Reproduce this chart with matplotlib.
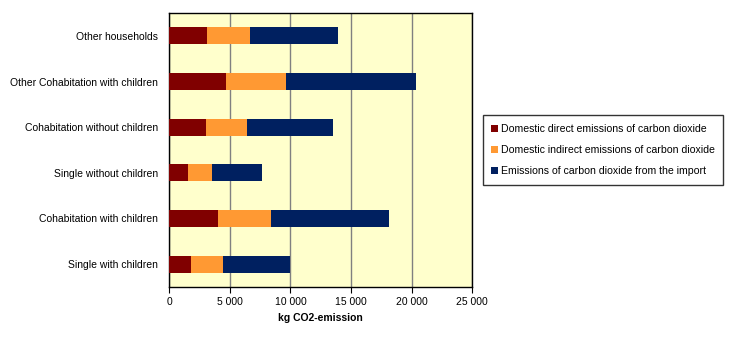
import numpy as np
import matplotlib
matplotlib.use('Agg')
import matplotlib.pyplot as plt
from matplotlib.ticker import FuncFormatter

plt.rcParams['font.family'] = ['Liberation Sans', 'DejaVu Sans']

categories = ['Single with children', 'Cohabitation with children',
              'Single without children', 'Cohabitation without children',
              'Other Cohabitation with children', 'Other households']
direct = [1800, 4000, 1550, 3000, 4700, 3100]
indirect = [2650, 4400, 2000, 3400, 4950, 3550]
imported = [5550, 9750, 4100, 7100, 10700, 7250]
series_names = ['Domestic direct emissions of carbon dioxide',
                'Domestic indirect emissions of carbon dioxide',
                'Emissions of carbon dioxide from the import']
colors = ['#800000', '#FF9933', '#002060']

fig = plt.figure(figsize=(7.47, 3.38), dpi=100)
ax = fig.add_axes([0.2266, 0.151, 0.4056, 0.8105])
ax.set_facecolor('#FFFFCC')

y = np.arange(len(categories))
left = np.zeros(len(categories))
for vals, name, c in zip([direct, indirect, imported], series_names, colors):
    ax.barh(y, vals, left=left, height=0.37, color=c, label=name, zorder=3)
    left += np.array(vals)

ax.set_xlim(0, 25000)
ax.set_ylim(-0.5, len(categories) - 0.5)
ax.set_xticks(np.arange(0, 25001, 5000))
ax.xaxis.set_major_formatter(FuncFormatter(lambda v, p: f'{int(v):,}'.replace(',', ' ')))
ax.set_yticks(y)
ax.set_yticklabels(categories)
ax.grid(axis='x', color='#808080', linewidth=1, zorder=1)
ax.tick_params(axis='both', labelsize=7.5, length=4, color='black')
ax.tick_params(axis='y', length=0, pad=8)
for s in ax.spines.values():
    s.set_color('black')
    s.set_linewidth(1)
ax.set_xlabel('kg CO2-emission', fontsize=7.5, fontweight='bold', labelpad=4)

leg = ax.legend(loc='center left', bbox_to_anchor=(1.018, 0.5), fontsize=7.6,
                frameon=True, fancybox=False, edgecolor='black',
                handlelength=0.6, handleheight=0.6, handletextpad=0.3,
                borderpad=0.8, labelspacing=1.05)
leg.get_frame().set_linewidth(1)

plt.savefig('out.png', dpi=100)
